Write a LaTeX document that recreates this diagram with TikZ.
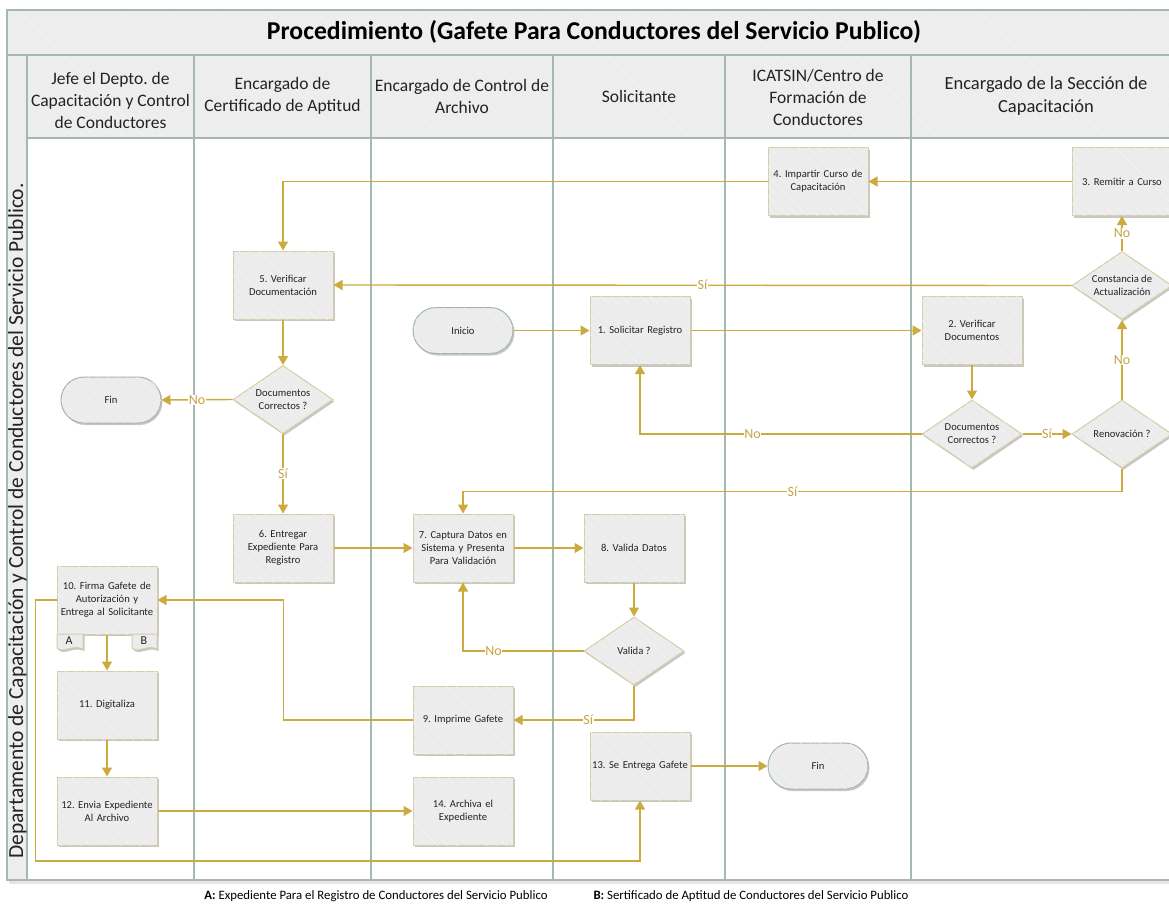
\documentclass[tikz,border=0pt]{standalone}
\usepackage{fontspec}
\setmainfont{Carlito}
\usetikzlibrary{arrows.meta,shapes.geometric,shadows,patterns.meta,calc}
\definecolor{gold}{RGB}{204,170,62}
\definecolor{goldtxt}{RGB}{196,164,70}
\definecolor{lanec}{RGB}{164,184,178}
\definecolor{boxfill}{RGB}{236,236,236}
\definecolor{boxedge}{RGB}{214,204,168}
\definecolor{termedge}{RGB}{160,182,176}
\definecolor{hdrfill}{RGB}{237,237,237}
\definecolor{hatchc}{RGB}{244,244,244}
\definecolor{txt}{RGB}{35,35,35}
\newcommand\boxfont{\fontsize{10.6}{13}\selectfont}
\newcommand\hdrfont{\fontsize{17.5}{22}\selectfont}
\tikzset{
  hatch/.style={postaction={pattern={Lines[angle=-45,distance=7pt,line width=0.4pt]},pattern color=hatchc}},
  shad/.style={drop shadow={shadow xshift=1.5pt,shadow yshift=-2pt,opacity=0.22,fill=black}},
  procbox/.style={rectangle,minimum width=100pt,minimum height=68pt,inner sep=1pt,text width=98pt,align=center,
    fill=boxfill,draw=boxedge,line width=1pt,font=\boxfont,text=txt,shad,hatch},
  termbox/.style={rectangle,rounded corners=23pt,minimum width=100pt,minimum height=46pt,inner sep=1pt,align=center,
    fill=boxfill,draw=termedge,line width=1pt,font=\boxfont,text=txt,shad,hatch},
  decbox/.style={diamond,aspect=1.47,minimum width=100pt,minimum height=68pt,inner sep=0pt,align=center,
    fill=boxfill,draw=boxedge,line width=1pt,font=\boxfont,text=txt,shad,hatch},
  lane/.style={draw=lanec,line width=1.8pt},
  flow/.style={draw=gold,line width=1.4pt,-{Triangle[length=9pt,width=10pt]}},
  lbl/.style={fill=white,inner sep=0.5pt,text=goldtxt,font=\fontsize{14}{14}\selectfont},
  hdr/.style={align=center,font=\hdrfont,text=txt},
  tabshape/.style={fill=boxfill,draw=boxedge,line width=1pt,shad},
  note/.style={font=\fontsize{12.8}{13}\selectfont,text=black},
}
\begin{document}
\frenchspacing
\begin{tikzpicture}[x=1pt,y=-1pt]
\useasboundingbox (0,0) rectangle (1169,903);
\clip (0,0) rectangle (1169,903);
\fill[white] (0,0) rectangle (1169,903);
% frame shadow
\fill[black,opacity=0.10] (9,880) rectangle (1185,884);
% bands
\path[fill=hdrfill,hatch] (7,10) rectangle (1185,55);
\path[fill=hdrfill,hatch] (27,55) rectangle (1185,138);
\path[fill=hdrfill,hatch] (7,55) rectangle (27,880);
\draw[lane] (7,10) rectangle (1185,880);
\draw[lane] (7,55) -- (1185,55);
\draw[lane] (27,138) -- (1185,138);
\foreach \x in {27,194,371,553,725,911} \draw[lane] (\x,55) -- (\x,880);
% title and headers
\node[font=\fontsize{25.7}{28}\selectfont\bfseries,text=black] (title) at (594,32) {Procedimiento (Gafete Para Conductores del Servicio Publico)};
\node[hdr] (h1) at (110.5,100) {Jefe el Depto. de\\Capacitación y Control\\de Conductores};
\node[hdr] (h2) at (282.5,96) {Encargado de\\Certificado de Aptitud};
\node[hdr] (h3) at (462,96) {Encargado de Control de\\Archivo};
\node[hdr] (h4) at (639,96) {Solicitante};
\node[hdr] (h5) at (818,97) {ICATSIN/Centro de\\Formación de\\Conductores};
\node[hdr,font=\fontsize{18.5}{23}\selectfont] (h6) at (1046,96) {Encargado de la Sección de\\Capacitación};
\node[rotate=90,font=\fontsize{21.5}{24}\selectfont,text=txt] (dept) at (17.5,521) {Departamento de Capacitación y Control de Conductores del Servicio Publico.};
% nodes
\node[procbox] (n4) at (818,181.5) {4. Impartir Curso de\\Capacitación};
\node[procbox] (n3) at (1122,181.5) {3. Remitir a Curso};
\node[procbox] (n5) at (283,285) {5. Verificar\\Documentación};
\node[decbox] (cons) at (1122,285.5) {Constancia de\\Actualización};
\node[termbox] (inicio) at (463,330.5) {Inicio};
\node[procbox] (n1) at (640,330.5) {1. Solicitar Registro};
\node[procbox] (n2) at (972,330.5) {2. Verificar\\Documentos};
\node[termbox] (fin1) at (111,400) {Fin};
\node[decbox] (d1) at (283,399.5) {Documentos\\Correctos ?};
\node[decbox] (d2) at (972,434) {Documentos\\Correctos ?};
\node[decbox] (ren) at (1122,434) {Renovación ?};
\node[procbox] (n6) at (283,548) {6. Entregar\\Expediente Para\\Registro};
\node[procbox] (n7) at (463,548) {7. Captura Datos en\\Sistema y Presenta\\Para Validación};
\node[procbox] (n8) at (634,548) {8. Valida Datos};
\node[procbox] (n10) at (107,600) {10. Firma Gafete de\\Autorización y\\Entrega al Solicitante};
\node[decbox] (d3) at (634,651) {Valida ?};
\node[procbox] (n9) at (463,720) {9. Imprime Gafete};
\node[procbox] (n11) at (107,705) {11. Digitaliza};
\node[procbox] (n13) at (640,766) {13. Se Entrega Gafete};
\node[termbox] (fin2) at (818,766) {Fin};
\node[procbox] (n12) at (107,811) {12. Envia Expediente\\Al Archivo};
\node[procbox] (n14) at (463,811) {14. Archiva el\\Expediente};
% tabs A and B
\path[tabshape] (57,634) -- (57,648) .. controls (63,654) and (72,644) .. (83,649) -- (83,634) -- cycle;
\path[tabshape] (132,634) -- (132,648) .. controls (138,654) and (147,644) .. (157,649) -- (157,634) -- cycle;
\node[font=\fontsize{12}{12}\selectfont,text=txt] (tabA) at (69,641) {A};
\node[font=\fontsize{12}{12}\selectfont,text=txt] (tabB) at (144,641) {B};
% connectors
\draw[flow] (n3.west) -- (n4.east);
\draw[flow] (n4.west) -| (n5.north);
\draw[flow] (cons.west) -- node[lbl,pos=0.5] {Sí} (n5.east);
\draw[flow] (n5.south) -- (d1.north);
\draw[flow] (d1.west) -- node[lbl,pos=0.5] {No} (fin1.east);
\draw[flow] (d1.south) -- node[lbl,pos=0.5] {Sí} (n6.north);
\draw[flow] (inicio.east) -- (n1.west);
\draw[flow] (n1.east) -- (n2.west);
\draw[flow] (n2.south) -- (d2.north);
\draw[flow] (d2.west) -| node[lbl,pos=0.3] {No} (n1.south);
\draw[flow] (d2.east) -- node[lbl,pos=0.5] {Sí} (ren.west);
\draw[flow] (ren.north) -- node[lbl,pos=0.5] {No} (cons.south);
\draw[flow] (cons.north) -- node[lbl,pos=0.5] {No} (n3.south);
\draw[flow] (ren.south) -- ++(0,23) -| node[lbl,pos=0.25] {Sí} (n7.north);
\draw[flow] (n6.east) -- (n7.west);
\draw[flow] (n7.east) -- (n8.west);
\draw[flow] (n8.south) -- (d3.north);
\draw[flow] (d3.west) -| node[lbl,pos=0.373] {No} (n7.south);
\draw[flow] (d3.south) |- node[lbl,pos=0.69] {Sí} (n9.east);
\draw[flow] (n9.west) -- ++(-129,0) |- (n10.east);
\draw[flow] (n10.south) -- (n11.north);
\draw[flow] (n11.south) -- (n12.north);
\draw[flow] (n10.west) -- ++(-21,0) -- ++(0,261) -| (n13.south);
\draw[flow] (n12.east) -- (n14.west);
\draw[flow] (n13.east) -- (fin2.west);
% footer
\node[note] (noteA) at (376,896) {\textbf{A:} Expediente Para el Registro de Conductores del Servicio Publico};
\node[note] (noteB) at (751,896) {\textbf{B:} Sertificado de Aptitud de Conductores del Servicio Publico};
\end{tikzpicture}
\end{document}
